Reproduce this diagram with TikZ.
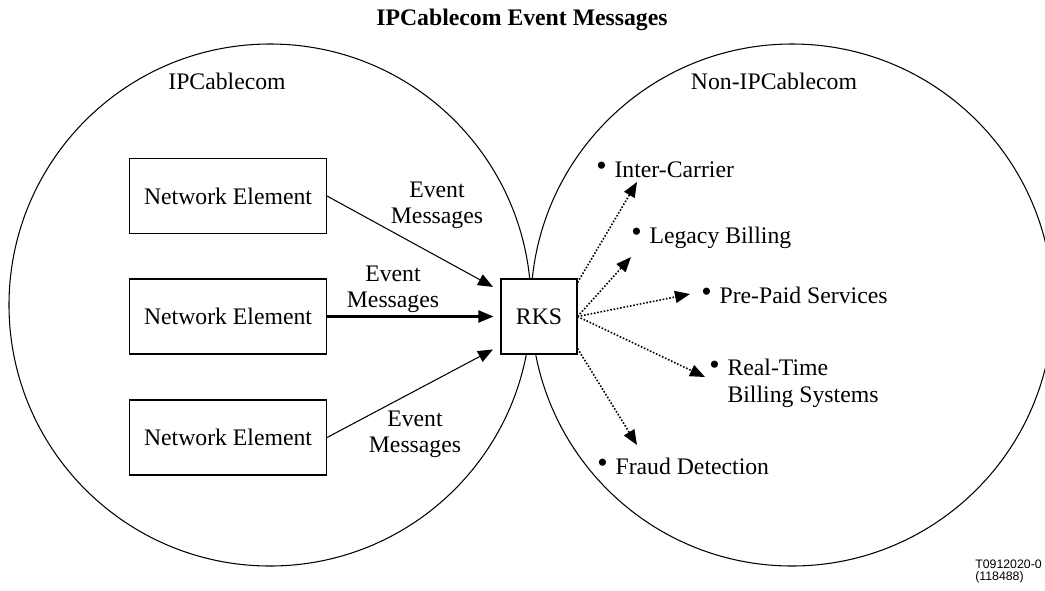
\documentclass[tikz,border=0pt]{standalone}
\usepackage{fontspec}
\setmainfont{Liberation Serif}
\newfontfamily\refsans{Liberation Sans}
\usetikzlibrary{arrows.meta}

\newcommand{\dotitem}{\raisebox{.08em}{\scalebox{1.25}{\textbullet}}\hspace{.33em}}

\begin{document}
\begin{tikzpicture}[
	every node/.style={font=\fontsize{13.5}{15}\selectfont},
	elem/.style={draw, fill=white, line width=0.6pt, minimum width=3.94cm, minimum height=1.5cm},
	msg/.style={align=center, inner sep=0pt},
	item/.style={anchor=base west, inner sep=0pt},
	feed/.style={line width=0.6pt, -{Triangle[length=0.3cm,width=0.24cm]}},
	tap/.style={densely dotted, line width=0.9pt, -{Triangle[length=0.3cm,width=0.24cm]}}
]
	\useasboundingbox (0,0) rectangle (20.9,-11.8);
	\clip (0,0) rectangle (20.9,-11.8);

	% Domains
	\draw[line width=0.6pt] (5.40,-6.10) circle (5.22);
	\draw[line width=0.6pt] (15.84,-6.10) circle (5.22);

	% Nodes
	\node[font=\fontsize{13.5}{15}\selectfont\bfseries] (title) at (10.44,-0.40) {IPCablecom Event Messages};
	\node (ipc) at (4.54,-1.62) {IPCablecom};
	\node (nonipc) at (15.48,-1.62) {Non-IPCablecom};

	\node[elem] (ne1) at (4.56,-3.92) {Network Element};
	\node[elem] (ne2) at (4.56,-6.33) {Network Element};
	\node[elem] (ne3) at (4.56,-8.75) {Network Element};
	\node[elem, minimum width=1.52cm] (rks) at (10.78,-6.33) {RKS};

	\node[msg] (m1) at (8.74,-4.10) {Event\\Messages};
	\node[msg] (m2) at (7.86,-5.78) {Event\\Messages};
	\node[msg] (m3) at (8.30,-8.68) {Event\\Messages};

	\node[item] (ic) at (11.92,-3.54) {\dotitem Inter-Carrier};
	\node[item] (lb) at (12.62,-4.86) {\dotitem Legacy Billing};
	\node[item] (pp) at (14.02,-6.06) {\dotitem Pre-Paid Services};
	\node[anchor=west, inner sep=0pt, align=left] (rt) at (14.18,-7.67) {\dotitem Real-Time\\\phantom{\dotitem}Billing Systems};
	\node[item] (fd) at (11.94,-9.48) {\dotitem Fraud Detection};

	\node[anchor=north west, inner sep=0pt, align=left, font=\refsans\fontsize{7}{6.6}\selectfont] (code) at (19.50,-11.20) {T0912020-0\\(118488)};

	% Arrow ends
	\coordinate (t1) at (12.74,-3.64);
	\coordinate (t2) at (12.62,-5.14);
	\coordinate (t3) at (13.80,-5.88);
	\coordinate (t4) at (14.10,-7.54);
	\coordinate (t5) at (12.74,-8.90);

	% Arrows
	\draw[feed, shorten >=0.17cm] (ne1.east) -- ([yshift=0.51cm]rks.west);
	\draw[feed, line width=1.2pt, shorten >=0.14cm] (ne2.east) -- (rks.west);
	\draw[feed, shorten >=0.17cm] (ne3.east) -- ([yshift=-0.58cm]rks.west);

	\draw[tap] ([yshift=-0.08cm]rks.north east) -- (t1);
	\draw[tap] (rks.east) -- (t2);
	\draw[tap] (rks.east) -- (t3);
	\draw[tap] (rks.east) -- (t4);
	\draw[tap] ([yshift=0.12cm]rks.south east) -- (t5);
\end{tikzpicture}
\end{document}
